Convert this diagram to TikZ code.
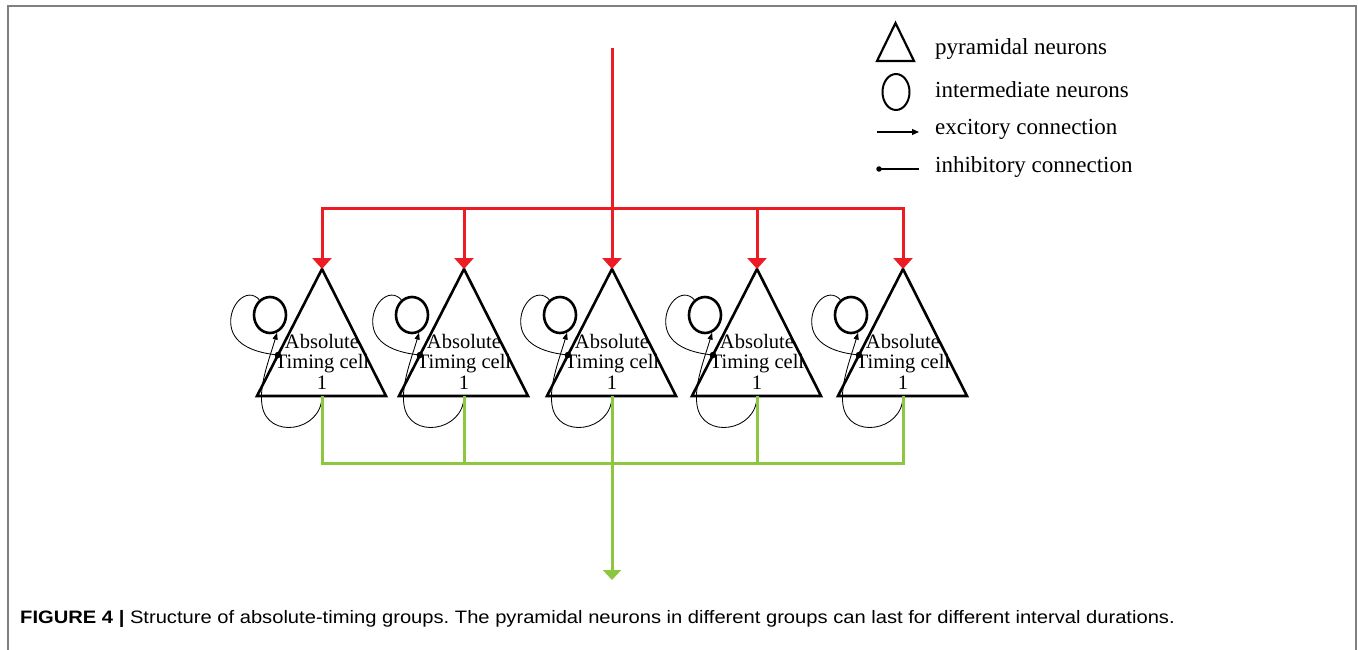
\documentclass[tikz,border=0pt]{standalone}
\usepackage{fontspec}
\setmainfont{Liberation Serif}
\setsansfont{Liberation Sans}
\newfontfamily\capfont[FakeStretch=1.12]{Liberation Sans}
\usetikzlibrary{arrows.meta,shapes.geometric}
\definecolor{redline}{HTML}{ED1C24}
\definecolor{greenline}{HTML}{8DC63F}
\definecolor{framegray}{HTML}{808080}
\begin{document}
\frenchspacing
\begin{tikzpicture}[x=1pt,y=-1pt,
  neuron/.style={line width=2.6pt,line join=miter},
  inter/.style={ellipse,draw,line width=2.6pt,minimum width=32pt,minimum height=36pt,inner sep=0pt},
  thinline/.style={line width=0.85pt},
  smalltip/.style={-{Triangle[length=7pt,width=5pt]}},
  dotend/.style={fill=black,circle,inner sep=0pt,minimum size=6.5pt},
  redl/.style={draw=redline,line width=3pt},
  redarrow/.style={redl,-{Triangle[length=11pt,width=19pt]}},
  greenl/.style={draw=greenline,line width=3pt},
  greenarrow/.style={greenl,-{Triangle[length=10pt,width=18pt]}},
  celltext/.style={font=\fontsize{20.5}{20.5}\selectfont,align=center,inner sep=0pt,anchor=north},
  legendtext/.style={font=\fontsize{23}{23}\selectfont,anchor=base west,inner sep=0pt},
  captext/.style={font=\capfont\fontsize{18}{18}\selectfont,anchor=base west,inner sep=0pt}
]
\useasboundingbox (0,0) rectangle (1358,650);
% frame
\draw[framegray,line width=2pt] (7.5,650) -- (7.5,6.5) -- (1355.5,6.5) -- (1355.5,650);

% groups
\foreach \cx [count=\i] in {322,464,612,757,903} {
  \coordinate (apex\i) at (\cx,269);
  \coordinate (bl\i) at (\cx-65,396);
  \coordinate (br\i) at (\cx+64,396);
  \coordinate (bc\i) at (\cx,396);
  \coordinate (dot\i) at (\cx-44,355);
  \draw[neuron] (apex\i) -- (bl\i) -- (br\i) -- cycle;
  \node[inter] (c\i) at (\cx-52,315) {};
  \node[celltext] (t\i) at (\cx,334) {Absolute\\Timing cell\\1};
  % excitatory loop: pyramidal -> intermediate
  \draw[thinline,smalltip] (bc\i) .. controls (\cx,432) and (\cx-55,440) .. (\cx-60,405)
      .. controls (\cx-63,385) and (\cx-53,360) .. (c\i.-68);
  % inhibitory: intermediate -> pyramidal
  \draw[thinline] (c\i.125) .. controls (\cx-75,286) and (\cx-94,305) .. (\cx-91,326)
      .. controls (\cx-88,346) and (\cx-65,353) .. (dot\i);
  \node[dotend] (d\i) at (dot\i) {};
}

% red input
\coordinate (rin) at (612,48);
\coordinate (rj) at (612,208);
\draw[redl] (rin) -- (rj);
\draw[redl,line cap=rect] (apex1|-rj) -- (apex5|-rj);
\foreach \i in {1,...,5} {
  \draw[redarrow] (apex\i|-rj) -- (apex\i);
}

% green output
\coordinate (gj) at (612,463);
\coordinate (gout) at (612,580);
\draw[greenl,line cap=rect] (bc1|-gj) -- (bc5|-gj);
\foreach \i in {1,2,4,5} {
  \draw[greenl] (bc\i) -- (bc\i|-gj);
}
\draw[greenarrow] (bc3) -- (gout);

% legend
\coordinate (lta) at (895.5,23);
\coordinate (ltl) at (877,61);
\coordinate (ltr) at (914,61);
\draw[line width=2.2pt,line join=miter] (lta) -- (ltl) -- (ltr) -- cycle;
\node[ellipse,draw,line width=2pt,minimum width=27pt,minimum height=36pt,inner sep=0pt] (lc) at (896,92) {};
\coordinate (la1) at (877,132);
\coordinate (la2) at (919,132);
\draw[line width=1.2pt,-{Triangle[length=7pt,width=6pt]}] (la1) -- (la2);
\coordinate (li1) at (879,169);
\coordinate (li2) at (919,169);
\draw[line width=1.2pt] (li1) -- (li2);
\node[dotend,minimum size=5.5pt] (ld) at (li1) {};
\node[legendtext] (l1) at (935,55) {pyramidal neurons};
\node[legendtext] (l2) at (935,98) {intermediate neurons};
\node[legendtext] (l3) at (935,135) {excitory connection};
\node[legendtext] (l4) at (935,173) {inhibitory connection};

% caption
\node[captext] (cap) at (20,623) {\textbf{FIGURE 4 |} Structure of absolute-timing groups. The pyramidal neurons in different groups can last for different interval durations.};
\end{tikzpicture}
\end{document}
